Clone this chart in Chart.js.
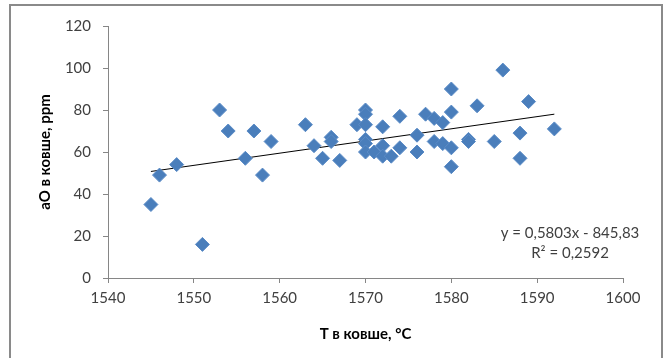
<!DOCTYPE html>
<html>
<head>
<meta charset="utf-8">
<script src="https://cdn.jsdelivr.net/npm/chart.js@4"></script>
<style>
  html, body { margin: 0; padding: 0; background: #fff; overflow: hidden; }
  #wrap { position: relative; width: 668px; height: 358px; }
  #frame {
    position: absolute; left: 9px; top: 4px; width: 654px; height: 400px;
    border: 2px solid #8a8a8a; box-sizing: border-box; pointer-events: none;
  }
</style>
</head>
<body>
<div id="wrap">
  <canvas id="scatter" width="668" height="358"></canvas>
  <div id="frame"></div>
</div>
<script>
// Ladle temperature vs. oxygen activity
const tempX = [1545, 1546, 1548, 1551, 1553, 1554, 1556, 1557, 1558, 1559,
               1563, 1564, 1565, 1566, 1566, 1567, 1569, 1570, 1570, 1570,
               1570, 1570, 1570, 1571, 1572, 1572, 1572, 1573, 1574, 1574,
               1576, 1576, 1577, 1578, 1578, 1579, 1579, 1580, 1580, 1580,
               1580, 1582, 1582, 1583, 1585, 1586, 1588, 1588, 1589, 1592];
const oxyY = [35, 49, 54, 16, 80, 70, 57, 70, 49, 65,
              73, 63, 57, 67, 65, 56, 73, 80, 78, 73,
              66, 64, 60, 60, 72, 63, 58, 58, 77, 62,
              68, 60, 78, 76, 65, 74, 64, 90, 79, 62,
              53, 66, 65, 82, 65, 99, 69, 57, 84, 71];

// linear trend: y = 0,5803x - 845,83
const slope = 0.5803;
const intercept = -845.83;
const rSquared = '0,2592';
const trendX = [1545, 1592];

const xTicks = [1540, 1550, 1560, 1570, 1580, 1590, 1600];
const yTicks = [0, 20, 40, 60, 80, 100, 120];

const FONT = "Lato, 'Noto Sans', sans-serif";
const AXIS_GRAY = '#868686';

const points = tempX.map((x, i) => ({ x: x, y: oxyY[i] }));
const trend = trendX.map(x => ({ x: x, y: slope * x + intercept }));

// equation label under the trend line
const equationLabel = {
  id: 'equationLabel',
  afterDatasetsDraw(chart) {
    const { ctx, chartArea } = chart;
    ctx.save();
    ctx.font = '15px ' + FONT;
    ctx.fillStyle = '#404040';
    ctx.textAlign = 'center';
    ctx.textBaseline = 'middle';
    const cx = chartArea.right - 53;
    const eq = 'y = ' + String(slope).replace('.', ',') + 'x - ' + String(-intercept).replace('.', ',');
    ctx.fillText(eq, cx, chartArea.top + 207);
    ctx.fillText('R² = ' + rSquared, cx, chartArea.top + 227);
    ctx.restore();
  }
};

new Chart(document.getElementById('scatter'), {
  type: 'scatter',
  data: {
    datasets: [{
      data: points,
      pointStyle: 'rectRot',
      pointRadius: 7,
      pointHoverRadius: 7,
      backgroundColor: '#4a7ebb',
      borderColor: '#5a8bc6',
      borderWidth: 1
    }, {
      type: 'line',
      data: trend,
      borderColor: '#000',
      borderWidth: 1,
      pointRadius: 0,
      fill: false
    }]
  },
  options: {
    responsive: false,
    animation: false,
    layout: { padding: { left: 32, right: 45, top: 26, bottom: 11 } },
    plugins: { legend: { display: false }, tooltip: { enabled: false } },
    scales: {
      x: {
        type: 'linear',
        min: 1540, max: 1600,
        afterFit(scale) { scale.height = 69; },
        afterBuildTicks(scale) { scale.ticks = xTicks.map(v => ({ value: v })); },
        grid: { drawOnChartArea: false, drawTicks: true, tickLength: 5, color: AXIS_GRAY },
        border: { display: true, color: AXIS_GRAY, width: 1 },
        ticks: {
          padding: 6, color: '#404040', font: { family: FONT, size: 15 },
          callback: v => String(v)
        },
        title: {
          display: true, text: 'T в ковше, °C', color: '#000',
          padding: { top: 0, bottom: 4 },
          font: { family: FONT, size: 15, weight: 'bold' }
        }
      },
      y: {
        min: 0, max: 120,
        afterFit(scale) { scale.width = 76; },
        afterBuildTicks(scale) { scale.ticks = yTicks.map(v => ({ value: v })); },
        grid: { drawOnChartArea: false, drawTicks: true, tickLength: 5, color: AXIS_GRAY },
        border: { display: true, color: AXIS_GRAY, width: 1 },
        ticks: {
          padding: 12, color: '#404040', font: { family: FONT, size: 15 },
          callback: v => String(v)
        },
        title: {
          display: true, text: 'aO в ковше, ppm', color: '#000',
          padding: { top: 4, bottom: 0 },
          font: { family: FONT, size: 15, weight: 'bold' }
        }
      }
    }
  },
  plugins: [equationLabel]
});
</script>
</body>
</html>
